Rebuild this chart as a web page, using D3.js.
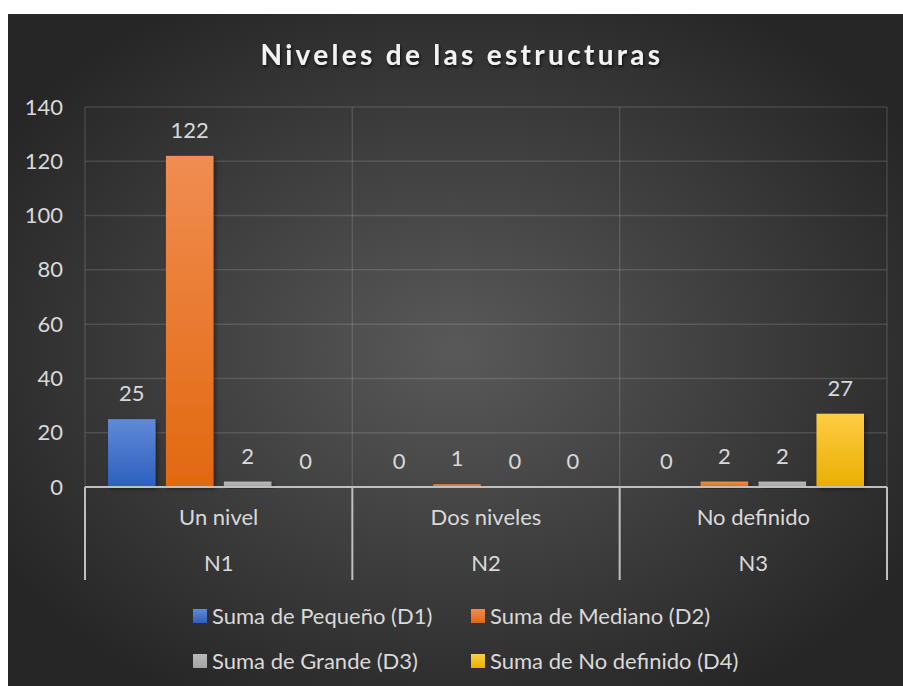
<!DOCTYPE html>
<html>
<head>
<meta charset="utf-8">
<script src="https://cdn.jsdelivr.net/npm/d3@7"></script>
<style>
  html, body { margin: 0; padding: 0; background: #fff; }
  svg { display: block; }
  text { font-family: Lato, "Open Sans", sans-serif; }
</style>
</head>
<body>
<svg id="chart" width="903" height="686"></svg>
<script>
// data
const categories = ['Un nivel', 'Dos niveles', 'No definido'];
const groups = ['N1', 'N2', 'N3'];
const seriesNames = ['Suma de Pequeño (D1)', 'Suma de Mediano (D2)', 'Suma de Grande (D3)', 'Suma de No definido (D4)'];
const pequeno = [25, 0, 0];
const mediano = [122, 1, 2];
const grande = [2, 0, 2];
const noDefinido = [0, 0, 27];
const yTicks = [0, 20, 40, 60, 80, 100, 120, 140];

const seriesValues = [pequeno, mediano, grande, noDefinido];
const colorsTop = ['#6189d8', '#f08d52', '#b8b8b8', '#ffcc45'];
const colorsBottom = ['#2c5fbd', '#e2680f', '#a5a5a5', '#e8b000'];

const svg = d3.select('#chart');
const W = 903, H = 686;
const margin = {left: 85, right: 16, top: 107, bottom: 199};
const fs = 22;

// background
const defs = svg.append('defs');
const bg = defs.append('radialGradient').attr('id', 'bg')
  .attr('cx', '50%').attr('cy', '50%').attr('r', '60%');
bg.append('stop').attr('offset', '0%').attr('stop-color', '#595959');
bg.append('stop').attr('offset', '100%').attr('stop-color', '#262626');
svg.append('rect').attr('x', 8).attr('y', 14).attr('width', W - 8).attr('height', H - 14).attr('fill', 'url(#bg)');

seriesValues.forEach(function(s, i) {
  const g = defs.append('linearGradient').attr('id', 'grad' + i)
    .attr('x1', 0).attr('y1', 0).attr('x2', 0).attr('y2', 1);
  g.append('stop').attr('offset', '0%').attr('stop-color', colorsTop[i]);
  g.append('stop').attr('offset', '100%').attr('stop-color', colorsBottom[i]);
});
const shadow = defs.append('filter').attr('id', 'shadow').attr('x', '-20%').attr('y', '-20%').attr('width', '150%').attr('height', '150%');
shadow.append('feDropShadow').attr('dx', 2).attr('dy', 2).attr('stdDeviation', 2).attr('flood-color', '#000').attr('flood-opacity', 0.45);
const tshadow = defs.append('filter').attr('id', 'tshadow');
tshadow.append('feDropShadow').attr('dx', 1).attr('dy', 2).attr('stdDeviation', 1.5).attr('flood-color', '#000').attr('flood-opacity', 0.7);

// title
svg.append('text').attr('x', 462).attr('y', 65).attr('text-anchor', 'middle')
  .attr('font-size', 28).attr('font-weight', 'bold').attr('letter-spacing', 3.3)
  .attr('fill', '#f2f2f2').attr('filter', 'url(#tshadow)')
  .text('Niveles de las estructuras');

const x0 = d3.scaleBand().domain(categories).range([margin.left, W - margin.right]);
const x1 = d3.scaleBand().domain(d3.range(seriesNames.length)).range([23, x0.bandwidth() - 23]).paddingInner(0.18);
const y = d3.scaleLinear().domain([0, 140]).range([H - margin.bottom, margin.top]);

// gridlines
svg.append('g').selectAll('line').data(yTicks.slice(1)).enter().append('line')
  .attr('x1', margin.left).attr('x2', W - margin.right)
  .attr('y1', function(d) { return y(d); }).attr('y2', function(d) { return y(d); })
  .attr('stroke', '#ffffff').attr('stroke-opacity', 0.13).attr('stroke-width', 1.5);
svg.append('g').selectAll('line').data([0, 1, 2, 3]).enter().append('line')
  .attr('x1', function(i) { return margin.left + i * x0.bandwidth(); })
  .attr('x2', function(i) { return margin.left + i * x0.bandwidth(); })
  .attr('y1', margin.top).attr('y2', y(0))
  .attr('stroke', '#ffffff').attr('stroke-opacity', 0.13).attr('stroke-width', 1.5);

// y axis labels
const yAxis = d3.axisLeft(y).tickValues(yTicks).tickSize(0).tickPadding(22);
const ya = svg.append('g').attr('transform', 'translate(' + margin.left + ',0)').call(yAxis);
ya.select('.domain').remove();
ya.selectAll('text').attr('font-size', fs).attr('fill', '#d9d9d9').attr('font-family', 'Lato, "Open Sans", sans-serif');

// bars
const cat = svg.append('g').selectAll('g').data(categories).enter().append('g')
  .attr('transform', function(d) { return 'translate(' + x0(d) + ',0)'; });
cat.selectAll('rect').data(function(d, ci) {
  return seriesValues.map(function(s, si) { return {si: si, v: s[ci]}; });
}).enter().append('rect')
  .attr('x', function(d) { return x1(d.si); })
  .attr('width', x1.bandwidth())
  .attr('y', function(d) { return y(d.v); })
  .attr('height', function(d) { return y(0) - y(d.v); })
  .attr('fill', function(d) { return 'url(#grad' + d.si + ')'; })
  .attr('filter', 'url(#shadow)');
cat.selectAll('text').data(function(d, ci) {
  return seriesValues.map(function(s, si) { return {si: si, v: s[ci]}; });
}).enter().append('text')
  .attr('x', function(d) { return x1(d.si) + x1.bandwidth() / 2; })
  .attr('y', function(d) { return y(d.v) - 18; })
  .attr('text-anchor', 'middle').attr('font-size', fs).attr('fill', '#d9d9d9')
  .text(function(d) { return d.v; });

// x axis
const base = y(0);
svg.append('line').attr('x1', margin.left).attr('x2', W - margin.right)
  .attr('y1', base).attr('y2', base).attr('stroke', '#bfbfbf').attr('stroke-width', 2);
svg.append('g').selectAll('line').data([0, 1, 2, 3]).enter().append('line')
  .attr('x1', function(i) { return margin.left + i * x0.bandwidth(); })
  .attr('x2', function(i) { return margin.left + i * x0.bandwidth(); })
  .attr('y1', base).attr('y2', base + 93)
  .attr('stroke', '#bfbfbf').attr('stroke-width', 2);
svg.append('g').selectAll('text').data(categories).enter().append('text')
  .attr('x', function(d) { return x0(d) + x0.bandwidth() / 2; })
  .attr('y', base + 38).attr('text-anchor', 'middle')
  .attr('font-size', fs).attr('fill', '#d9d9d9').text(function(d) { return d; });
svg.append('g').selectAll('text').data(groups).enter().append('text')
  .attr('x', function(d, i) { return x0(categories[i]) + x0.bandwidth() / 2; })
  .attr('y', base + 84).attr('text-anchor', 'middle')
  .attr('font-size', fs).attr('fill', '#d9d9d9').text(function(d) { return d; });

// legend
const legendX = [193, 471];
const legendY = [616, 661];
const leg = svg.append('g').selectAll('g').data(seriesNames).enter().append('g')
  .attr('transform', function(d, i) { return 'translate(' + legendX[i % 2] + ',' + legendY[Math.floor(i / 2)] + ')'; });
leg.append('rect').attr('x', 0).attr('y', -7).attr('width', 14).attr('height', 14)
  .attr('fill', function(d, i) { return 'url(#grad' + i + ')'; });
leg.append('text').attr('x', 19).attr('y', 8).attr('font-size', fs).attr('fill', '#d9d9d9')
  .text(function(d) { return d; });
</script>
</body>
</html>
